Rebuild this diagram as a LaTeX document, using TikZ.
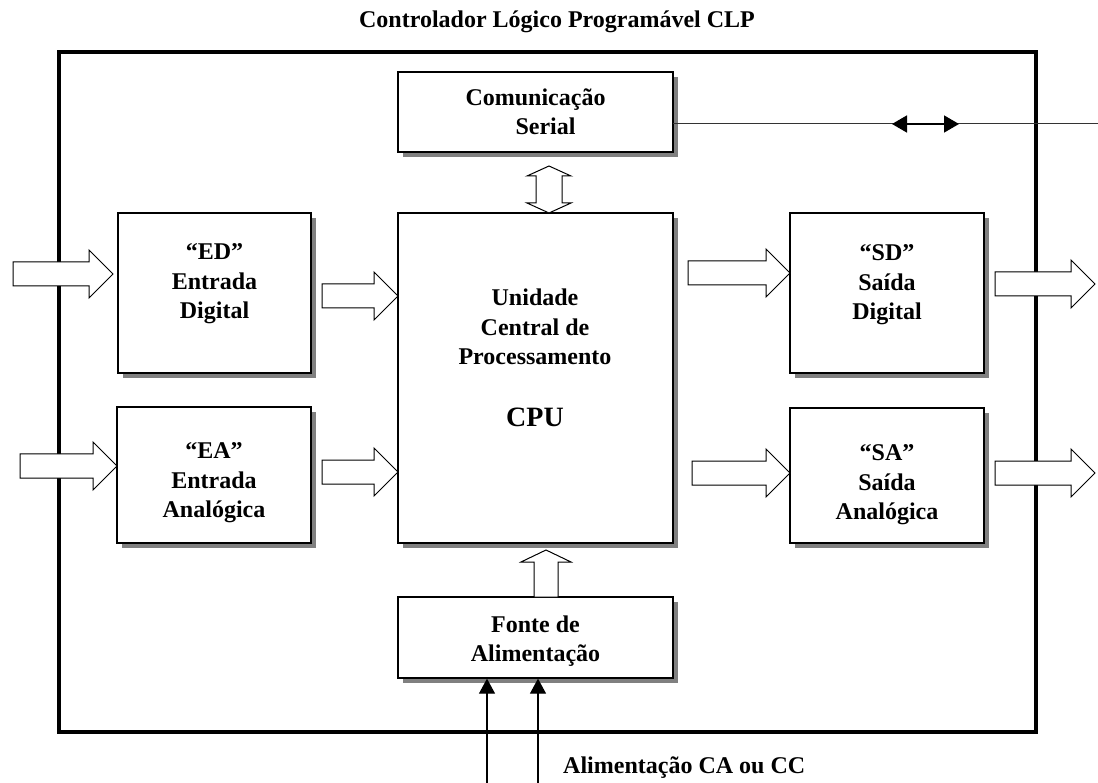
\documentclass[tikz,border=0pt]{standalone}
\usepackage{fontspec}
\setmainfont{Liberation Serif}
\usetikzlibrary{arrows.meta,shadows}
\newcommand\hollowright[2]{% #1 = tip point, #2 = total length
  \draw[harrow] (#1) -- ++(-24,-24) -- ++(0,12) -- ++(-#2+24,0) -- ++(0,24) -- ++(#2-24,0) -- ++(0,12) -- cycle;}
\begin{document}
\begin{tikzpicture}[x=1pt,y=-1pt,
  bfont/.style={font=\bfseries\fontsize{24}{29.5}\selectfont},
  box/.style={draw,line width=1.3pt,fill=white,align=center,bfont,inner sep=0pt,
    drop shadow={shadow xshift=5pt,shadow yshift=-5pt,fill=black!50,opacity=1}},
  harrow/.style={draw,line width=1pt,fill=white,line join=miter},
  txt/.style={bfont,align=center,inner sep=0pt},
  pline/.style={line width=1.2pt,-{Triangle[length=15pt,width=16pt]}},
]
\useasboundingbox (0,0) rectangle (1098,783);

% outer frame
\node[draw,line width=4pt,minimum width=977pt,minimum height=680pt,inner sep=0pt] (clp) at (547.5,392) {};
\node[txt] (title) at (557,22) {Controlador Lógico Programável CLP};

% blocks
\node[box,minimum width=275pt,minimum height=80pt] (com) at (535.5,112) {Comunicação\\\hspace*{20pt}Serial};
\node[box,minimum width=275pt,minimum height=330pt] (cpu) at (535.5,378) {};
\node[txt] (cput) at (535,327) {Unidade\\Central de\\Processamento};
\node[txt,font=\bfseries\fontsize{28}{34}\selectfont] (cpul) at (535,417) {CPU};
\node[box,minimum width=193pt,minimum height=160pt] (ed) at (214.5,293) {};
\node[txt] (edt) at (214.5,284) {“ED”\\Entrada\\Digital};
\node[box,minimum width=194pt,minimum height=136pt] (ea) at (214,475) {};
\node[txt] (eat) at (214,483) {“EA”\\Entrada\\Analógica};
\node[box,minimum width=194pt,minimum height=160pt] (sd) at (887,293) {};
\node[txt] (sdt) at (887,285) {“SD”\\Saída\\Digital};
\node[box,minimum width=194pt,minimum height=135pt] (sa) at (887,475.5) {};
\node[txt] (sat) at (887,485) {“SA”\\Saída\\Analógica};
\node[box,minimum width=275pt,minimum height=81pt] (fonte) at (535.5,637.5) {};
\node[txt] (fontet) at (535.5,641) {Fonte de\\Alimentação};

% hollow arrows
\hollowright{113,274}{100}
\hollowright{398,296}{76}
\hollowright{117,466}{97}
\hollowright{398,472}{76}
\hollowright{790,273}{102}
\hollowright{1095,284}{100}
\hollowright{790,473}{98}
\hollowright{1095,473}{100}

% double vertical arrow com <-> cpu
\draw[harrow] (549,166) -- (571,176) -- (562,176) -- (562,203) -- (571,203) -- (549,213)
  -- (527,203) -- (536,203) -- (536,176) -- (527,176) -- cycle;
% up arrow fonte -> cpu
\draw[harrow] (546,550) -- (571,562) -- (558,562) -- (558,597) -- (534,597) -- (534,562) -- (521,562) -- cycle;

% serial line
\coordinate (serA) at (673,124);
\coordinate (serB) at (1098,124);
\draw[line width=1pt,black!80] (serA) -- (serB);
\coordinate (dA) at (892,124);
\coordinate (dB) at (959,124);
\draw[line width=1.6pt,{Triangle[length=15pt,width=17pt]}-{Triangle[length=15pt,width=17pt]}] (dA) -- (dB);

% power lines
\coordinate (p1) at (487,783);
\coordinate (p2) at (538,783);
\draw[pline] (p1) -- (p1 |- fonte.south);
\draw[pline] (p2) -- (p2 |- fonte.south);
\node[txt,anchor=west] (plabel) at (563,768) {Alimentação CA ou CC};
\end{tikzpicture}
\end{document}
